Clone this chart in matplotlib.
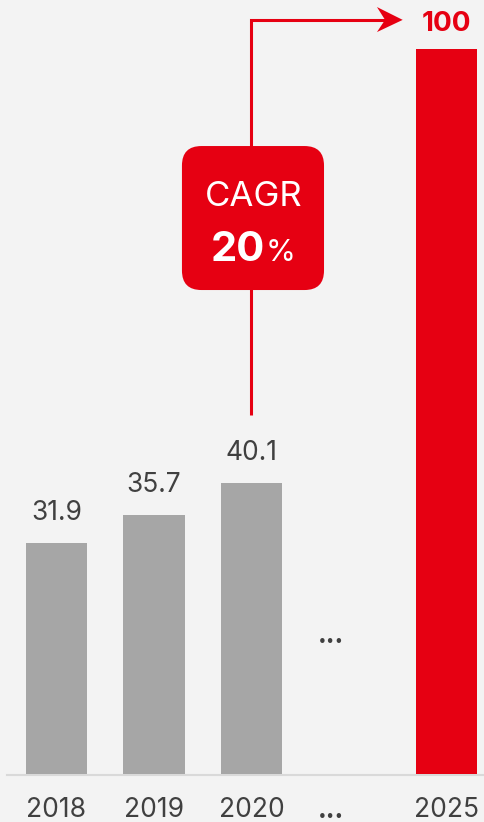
import numpy as np
import matplotlib
matplotlib.use('Agg')
import matplotlib.pyplot as plt
from matplotlib.patches import FancyBboxPatch, Polygon

# данные
years = ['2018', '2019', '2020', '2025']
values = [31.9, 35.7, 40.1, 100]
slots = [0, 1, 2, 4]
bar_colors = ['#a6a6a6', '#a6a6a6', '#a6a6a6', '#e60012']
label_colors = ['#404040', '#404040', '#404040', '#e60012']
cagr_text = 'CAGR'
cagr_value = '20'

RED = '#e60012'
BG = '#f3f3f3'
DARK = '#404040'

plt.rcParams['font.family'] = ['Inter', 'DejaVu Sans']

fig = plt.figure(figsize=(4.85, 8.22), dpi=100)
fig.patch.set_facecolor(BG)
ax = fig.add_axes([0, 0, 1, 1])
ax.set_facecolor(BG)
ax.set_xlim(-0.579, 4.395)
ax.set_ylim(-6.62, 106.69)
ax.set_axis_off()

# столбцы
ax.bar(slots, values, width=0.63, color=bar_colors, zorder=2)
ax.plot([-0.51, 4.395], [-0.1, -0.1], color='#d9d9d9', lw=1.5, zorder=1)

# подписи значений
for x, v, c in zip(slots, values, label_colors):
	if v == 100:
		ax.annotate('100', (x, v), xytext=(0, 12.5), textcoords='offset points',
					ha='center', va='baseline', fontsize=20, fontweight='bold', color=c)
	else:
		ax.annotate('%.1f' % v, (x, v), xytext=(0, 16.6), textcoords='offset points',
					ha='center', va='baseline', fontsize=19, color=c)

# подписи по оси x
for x, y in zip(slots, years):
	ax.text(x, -5.93, y, ha='center', va='baseline', fontsize=19, color=DARK)
ax.text(2.815, -6.0, '...', ha='center', va='baseline', fontsize=19,
		fontweight='bold', color=DARK)
ax.text(2.815, 18.0, '...', ha='center', va='baseline', fontsize=19,
		fontweight='bold', color=DARK)

# стрелка CAGR
ax.plot([2.0, 2.0, 3.40], [49.5, 103.95, 103.95], color=RED, lw=2.2,
		solid_joinstyle='miter', solid_capstyle='butt', zorder=3)
head = Polygon([[3.287, 105.72], [3.551, 103.95], [3.287, 102.27], [3.37, 103.95]],
			   closed=True, fc=RED, ec='none', zorder=3)
ax.add_patch(head)

# плашка
sx = 97.5 / 7.255
box = FancyBboxPatch((1.287, 66.71), 2.744 - 1.287, 86.56 - 66.71,
					 boxstyle='round,pad=0,rounding_size=0.2', mutation_aspect=sx,
					 fc=RED, ec='none', zorder=4)
ax.add_patch(box)
ax.text(2.02, 79.6, cagr_text, ha='center', va='center', fontsize=25,
		color='white', zorder=5)
ax.text(2.14, 70.7, cagr_value, ha='right', va='baseline', fontsize=30,
		fontweight='bold', color='white', zorder=5)
ax.text(2.145, 70.7, '%', ha='left', va='baseline', fontsize=22,
		color='white', zorder=5)

fig.savefig('out.png', dpi=100, facecolor=BG)
